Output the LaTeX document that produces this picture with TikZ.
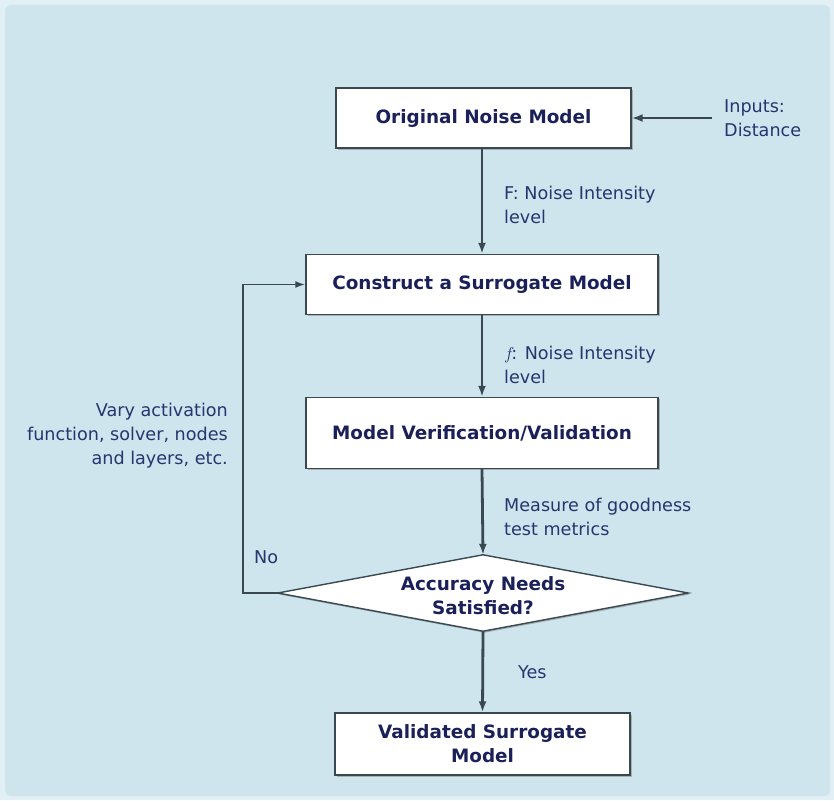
\documentclass[tikz,border=0pt]{standalone}
\usepackage{fontspec}
\setmainfont{DejaVu Sans}
\usetikzlibrary{arrows.meta,shadows}

\definecolor{panel}{RGB}{206,229,237}
\definecolor{panelrim}{RGB}{226,240,245}
\definecolor{titleink}{RGB}{27,33,88}
\definecolor{noteink}{RGB}{40,52,110}
\definecolor{wire}{RGB}{58,72,82}

\tikzset{
  stepbox/.style={draw=wire, line width=1.4pt, fill=white,
    minimum width=352pt, minimum height=60pt, inner sep=0pt,
    align=center, text=titleink,
    font=\fontsize{18.4}{24}\selectfont\bfseries,
    drop shadow={shadow xshift=1.5pt, shadow yshift=-1.5pt, fill=black!45, opacity=0.6}},
  note/.style={text=noteink, font=\fontsize{17.6}{24}\selectfont, inner sep=0pt},
  flow/.style={draw=wire, line width=2.8pt, -{Latex[length=11pt,width=8pt]}},
  loopflow/.style={draw=wire, line width=1.8pt, -{Latex[length=10pt,width=7pt]}},
}

\begin{document}
\begin{tikzpicture}[x=1pt,y=-1pt]
  % panel
  \fill[panelrim] (0,0) rectangle (834,800);
  \fill[panel, rounded corners=6pt] (5,5) rectangle (830,796);
  \useasboundingbox (0,0) rectangle (834,800);

  % process boxes
  \node[stepbox, minimum width=295pt] (orig) at (483.5,118) {Original Noise Model};
  \node[stepbox] (build) at (482,284.5) {Construct a Surrogate Model};
  \node[stepbox, minimum height=71pt] (verify) at (482,433) {Model Verification/Validation};

  % decision
  \node[minimum width=410pt, minimum height=76pt, inner sep=0pt] (check) at (483,593) {};
  \fill[black!45, opacity=0.6] ([shift={(1.5,1.5)}]check.north) -- ([shift={(1.5,1.5)}]check.east)
    -- ([shift={(1.5,1.5)}]check.south) -- ([shift={(1.5,1.5)}]check.west) -- cycle;
  \draw[wire, line width=1.4pt, fill=white, line join=miter]
    (check.north) -- (check.east) -- (check.south) -- (check.west) -- cycle;
  \node[align=center, text=titleink, font=\fontsize{18.4}{24}\selectfont\bfseries]
    (checktext) at (483,596) {Accuracy Needs\\Satisfied?};

  \node[stepbox, minimum width=295pt, minimum height=62pt] (done) at (482.5,744)
    {Validated Surrogate\\Model};

  % inputs
  \node[note, align=left, anchor=west] (inputs) at (724,118) {Inputs:\\Distance};
  \coordinate (inputstail) at (712,118);
  \draw[flow] (inputstail) -- (orig.east);

  % main chain
  \draw[flow] (orig.south -| build.north) -- (build.north);
  \draw[flow] (build.south) -- (verify.north);
  \draw[flow] (verify.south) -- (check.north);
  \draw[flow] (check.south) -- (done.north);

  % feedback loop
  \coordinate (loopcorner) at (243,593);
  \draw[loopflow] (check.west) -- (loopcorner) |- (build.west);

  % connector labels
  \node[note, align=left, anchor=west] (lblF) at (504,204.5) {F: Noise Intensity\\level};
  \node[note, align=left, anchor=west] (lblf) at (504,365) {$f$\kern-3pt: Noise Intensity\\level};
  \node[note, align=left, anchor=west] (lblm) at (504,517) {Measure of goodness\\test metrics};
  \node[note, anchor=west] (lblno) at (254,557) {No};
  \node[note, anchor=west] (lblyes) at (518,672) {Yes};
  \node[note, align=right, anchor=east] (lblvary) at (228,436)
    {Vary activation\\function, solver, nodes\\and layers, etc.};
\end{tikzpicture}
\end{document}
